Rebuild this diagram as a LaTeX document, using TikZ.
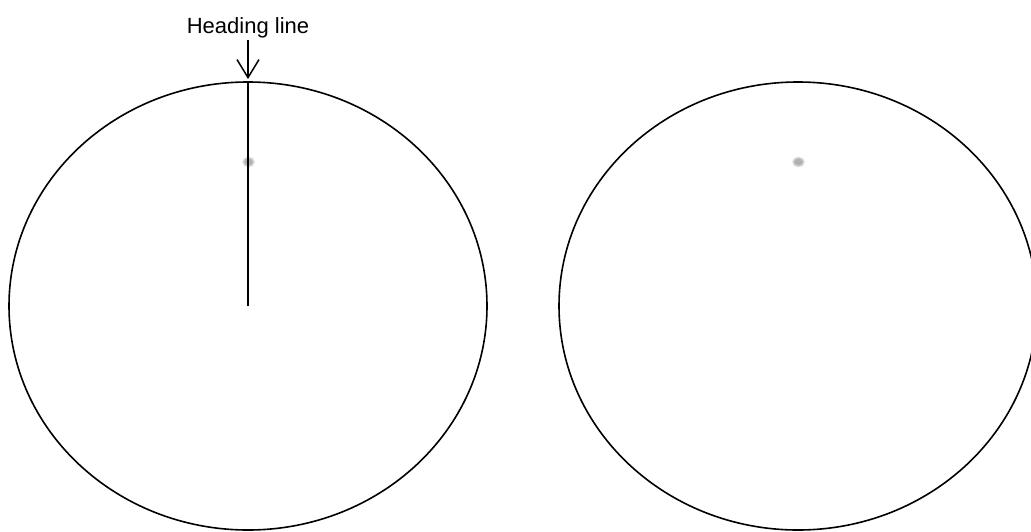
\documentclass[tikz,border=0pt]{standalone}
\usepackage{fontspec}
\setmainfont{Liberation Sans}
\usepackage{xcolor}
\usepackage{tikz}
\usetikzlibrary{arrows.meta, positioning, shapes.geometric}

\begin{document}
\begin{tikzpicture}[x=1pt, y=-1pt,
  dial/.style={draw, ellipse, line width=1.6pt, minimum width=478pt, minimum height=448pt, inner sep=0pt, outer sep=0pt},
  blip/.style={ellipse, minimum width=11pt, minimum height=9pt, inner sep=0pt, fill=gray!60, draw=gray!30, line width=1.5pt},
  heading/.style={line width=2.8pt},
  callout/.style={-{Straight Barb[length=18pt, width=22pt]}, line width=1.5pt, shorten <=2pt, shorten >=3pt}]
\useasboundingbox (0,0) rectangle (1031,531);
% two dials, each with one blip
\foreach \cx/\nm in {248/leftdial, 798/rightdial} {
  \node[dial] (\nm) at (\cx,306) {};
  \node[blip] (\nm-blip) at (\cx+0.5,162) {};
}
% heading line on the left dial only
\draw[heading] (leftdial.north) -- (leftdial.center);
% label
\node[font=\fontsize{22}{26}\selectfont, anchor=base, inner sep=0pt] (hdr) at (248,33) {Heading line};
\draw[callout] (hdr.south) -- (leftdial.north);
\end{tikzpicture}
\end{document}
